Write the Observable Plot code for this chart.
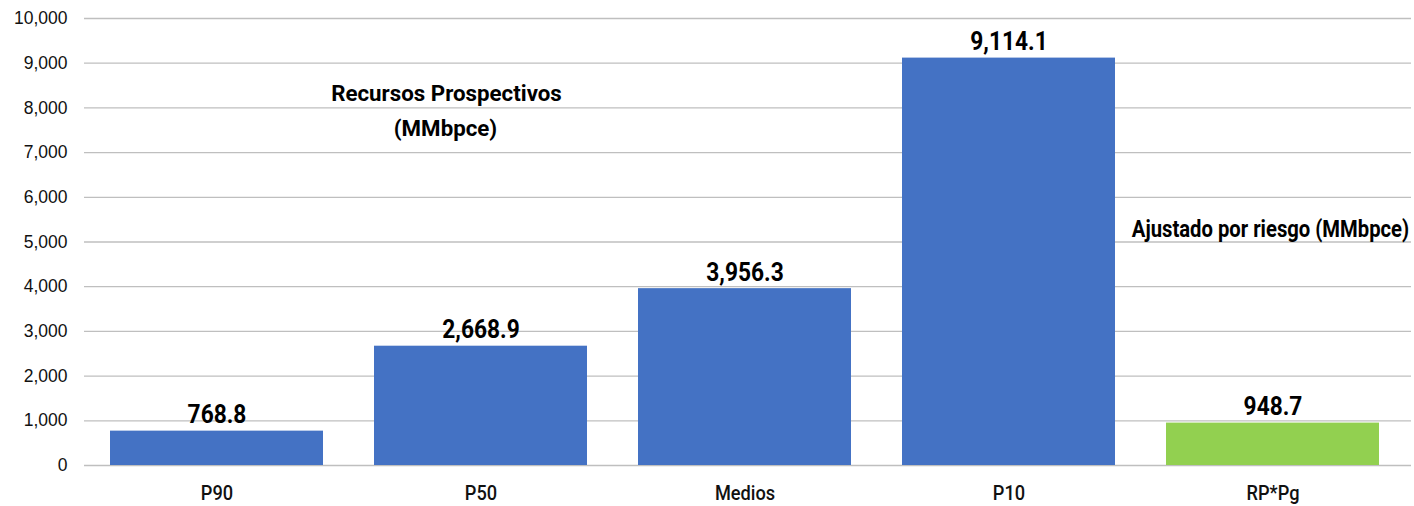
<!DOCTYPE html>
<html>
<head>
<meta charset="utf-8">
<script src="https://cdn.jsdelivr.net/npm/d3@7"></script>
<script src="https://cdn.jsdelivr.net/npm/@observablehq/plot@0.6"></script>
<style>
  html, body { margin: 0; padding: 0; background: #fff; }
  #chart svg { display: block; }
</style>
</head>
<body>
<div id="chart"></div>
<script>
const categories = ["P90", "P50", "Medios", "P10", "RP*Pg"];
const values = [768.8, 2668.9, 3956.3, 9114.1, 948.7];
const groups = ["Recursos", "Recursos", "Recursos", "Recursos", "Riesgo"];
const valueLabels = ["768.8", "2,668.9", "3,956.3", "9,114.1", "948.7"];
const yTicks = [0, 1000, 2000, 3000, 4000, 5000, 6000, 7000, 8000, 9000, 10000];
const annotations = ["Recursos Prospectivos", "(MMbpce)", "Ajustado por riesgo (MMbpce)"];

const data = categories.map((c, i) => ({cat: c, value: values[i], group: groups[i], label: valueLabels[i]}));

const condensed = "Roboto, 'Liberation Sans', sans-serif";
const condensedB = "Roboto, 'Liberation Sans', Arial, sans-serif";
const condensedC = "Roboto, Arial, sans-serif";

const chart = Plot.plot({
  width: 1414,
  height: 506,
  marginLeft: 84,
  marginRight: 9,
  marginTop: 18,
  marginBottom: 41,
  style: {fontFamily: "Arial, 'Liberation Sans', sans-serif", fontSize: "17.5px", color: "#111", background: "#fff"},
  x: {domain: categories, paddingInner: 0.193, paddingOuter: 0.098, label: null},
  y: {domain: [0, 10000], label: null},
  color: {domain: ["Recursos", "Riesgo"], range: ["#4472C4", "#92D050"]},
  marks: [
    Plot.ruleY(yTicks, {stroke: "#bfbfbf", strokeWidth: 1.3, insetRight: -6}),
    Plot.ruleX([0], {frameAnchor: "left", stroke: "#bfbfbf", strokeWidth: 1.3, y1: 0, y2: 10000}),
    Plot.barY(data, {x: "cat", y: "value", fill: "group"}),
    Plot.text(data, {x: "cat", y: "value", text: "label", dy: -16, fontSize: 25, fontWeight: "bold", fontFamily: condensed, fill: "#000"}),
    Plot.axisY({ticks: yTicks, tickFormat: d3.format(","), tickSize: 0, tickPadding: 17, fontSize: 17.5, fill: "#111"}),
    Plot.axisX({tickSize: 0, tickPadding: 20, fontSize: 20, fontWeight: 500, fontFamily: condensed, fill: "#111"}),
    Plot.text([annotations[0]], {frameAnchor: "top-left", dx: 446 - 84, dy: 93 - 18, lineAnchor: "middle", textAnchor: "middle", fontSize: 23, fontWeight: "bold", fontFamily: condensedB, fill: "#000"}),
    Plot.text([annotations[1]], {frameAnchor: "top-left", dx: 445 - 84, dy: 128 - 18, lineAnchor: "middle", textAnchor: "middle", fontSize: 23, fontWeight: "bold", fontFamily: condensedB, fill: "#000"}),
    Plot.text([annotations[2]], {frameAnchor: "top-left", dx: 1270 - 84, dy: 229 - 18, lineAnchor: "middle", textAnchor: "middle", fontSize: 23, fontWeight: "bold", fontFamily: condensedC, fill: "#000"})
  ]
});
document.getElementById("chart").appendChild(chart);

chart.querySelectorAll('g[aria-label="y-axis tick label"] text').forEach(t => {
  t.style.fontSize = "17.5px";
  t.style.fontFamily = "Arial, 'Liberation Sans', sans-serif";
});

// emulate the condensed face of the original by narrowing the glyphs horizontally
function squeeze(selector, s) {
  chart.querySelectorAll(selector).forEach(t => {
    const tr = t.getAttribute("transform") || "";
    t.setAttribute("transform", (tr + ` scale(${s},1)`).trim());
  });
}
squeeze(`g[font-family="${condensed}"] text`, 0.91);
squeeze(`g[font-family="${condensedB}"] text`, 0.97);
squeeze(`g[font-family="${condensedC}"] text`, 0.88);
</script>
</body>
</html>
